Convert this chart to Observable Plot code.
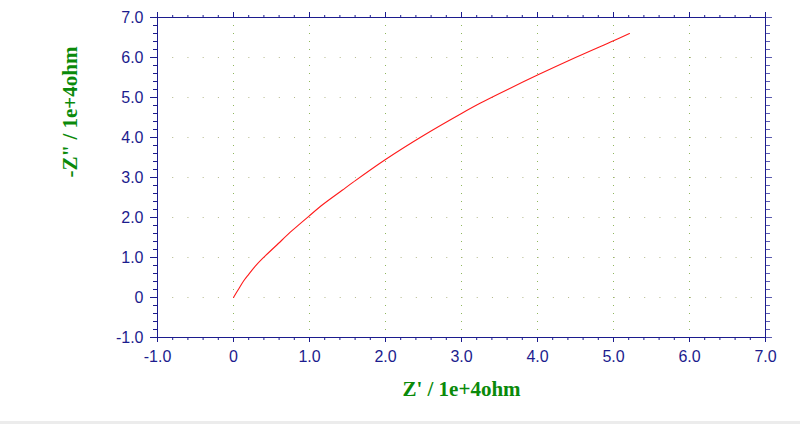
<!DOCTYPE html>
<html>
<head>
<meta charset="utf-8">
<script src="https://cdn.jsdelivr.net/npm/d3@7"></script>
<script src="https://cdn.jsdelivr.net/npm/@observablehq/plot@0.6"></script>
<style>
  html, body { margin: 0; padding: 0; background: #ffffff; }
  #chart { width: 800px; height: 421px; }
  #strip { width: 800px; height: 3px; background: #ececec; }
</style>
</head>
<body>
<div id="chart"></div>
<div id="strip"></div>
<script>
// ---- data ----
const zReal = [0, 0.07, 0.135, 0.2, 0.29, 0.38, 0.59, 0.77, 0.99, 1.18, 1.43, 1.58, 2.0, 2.5, 3.0, 3.25, 3.5, 4.0, 4.5, 5.0, 5.21];
const zImag = [0, 0.22, 0.42, 0.58, 0.79, 0.97, 1.35, 1.67, 2.03, 2.33, 2.68, 2.89, 3.45, 4.05, 4.6, 4.86, 5.1, 5.56, 6.0, 6.42, 6.6];

const xTicks = [-1, 0, 1, 2, 3, 4, 5, 6, 7];
const xTickLabels = ["-1.0", "0", "1.0", "2.0", "3.0", "4.0", "5.0", "6.0", "7.0"];
const yTicks = [-1, 0, 1, 2, 3, 4, 5, 6, 7];
const yTickLabels = ["-1.0", "0", "1.0", "2.0", "3.0", "4.0", "5.0", "6.0", "7.0"];
const gridValues = [0, 1, 2, 3, 4, 5, 6];

const xLabel = "Z' / 1e+4ohm";
const yLabel = "-Z\" / 1e+4ohm";

const points = zReal.map((x, i) => ({x, y: zImag[i]}));

const navy = "#1c1c8e";
const minorX = d3.range(-1, 7.0001, 0.2);
const minorY = d3.range(-1, 7.0001, 0.2);
const fmtX = d => xTickLabels[xTicks.indexOf(d)];
const fmtY = d => yTickLabels[yTicks.indexOf(d)];
const blank = () => "";

const chart = Plot.plot({
  width: 800,
  height: 421,
  marginLeft: 157,
  marginRight: 35,
  marginTop: 17,
  marginBottom: 84,
  style: {background: "#ffffff", fontFamily: "'Liberation Sans', Arial, sans-serif", overflow: "visible"},
  x: {domain: [-1, 7], axis: null},
  y: {domain: [-1, 7], axis: null},
  marks: [
    Plot.gridX(gridValues, {stroke: "#8fb85c", strokeOpacity: 1, strokeDasharray: "1 7"}),
    Plot.gridY(gridValues, {stroke: "#b3b888", strokeOpacity: 1, strokeDasharray: "1 14.225"}),
    Plot.line(points, {x: "x", y: "y", stroke: "#ff1a1a", strokeWidth: 1.1, curve: "catmull-rom"}),
    Plot.frame({stroke: navy, strokeWidth: 1}),
    // bottom axis
    Plot.axisX(minorX, {anchor: "bottom", tickSize: 3, tickFormat: blank, label: null, stroke: navy}),
    Plot.axisX(xTicks, {anchor: "bottom", tickSize: 5, tickPadding: 8, tickFormat: fmtX, label: null, color: navy, fontSize: 16}),
    // top axis
    Plot.axisX(minorX, {anchor: "top", tickSize: 3, tickFormat: blank, label: null, stroke: navy}),
    Plot.axisX(xTicks, {anchor: "top", tickSize: 6, tickFormat: blank, label: null, stroke: navy}),
    // left axis
    Plot.axisY(minorY, {anchor: "left", tickSize: 4, tickFormat: blank, label: null, stroke: navy}),
    Plot.axisY(yTicks, {anchor: "left", tickSize: 7, tickPadding: 7, tickFormat: fmtY, label: null, color: navy, fontSize: 16}),
    // right axis
    Plot.axisY(minorY, {anchor: "right", tickSize: 4, tickFormat: blank, label: null, stroke: "#5a5ab0"}),
    Plot.axisY(yTicks, {anchor: "right", tickSize: 6, tickFormat: blank, label: null, stroke: "#5a5ab0"}),
    // axis titles
    Plot.text([xLabel], {text: d => d, frameAnchor: "bottom", dy: 58, fill: "#0a8a0a", fontSize: 21, fontWeight: "bold", fontFamily: "'Liberation Serif', 'Times New Roman', serif"}),
    Plot.text([yLabel], {text: d => d, frameAnchor: "left", dx: -87, rotate: -90, fill: "#0a8a0a", fontSize: 21, fontWeight: "bold", fontFamily: "'Liberation Serif', 'Times New Roman', serif"})
  ]
});
document.getElementById("chart").appendChild(chart);
</script>
</body>
</html>
